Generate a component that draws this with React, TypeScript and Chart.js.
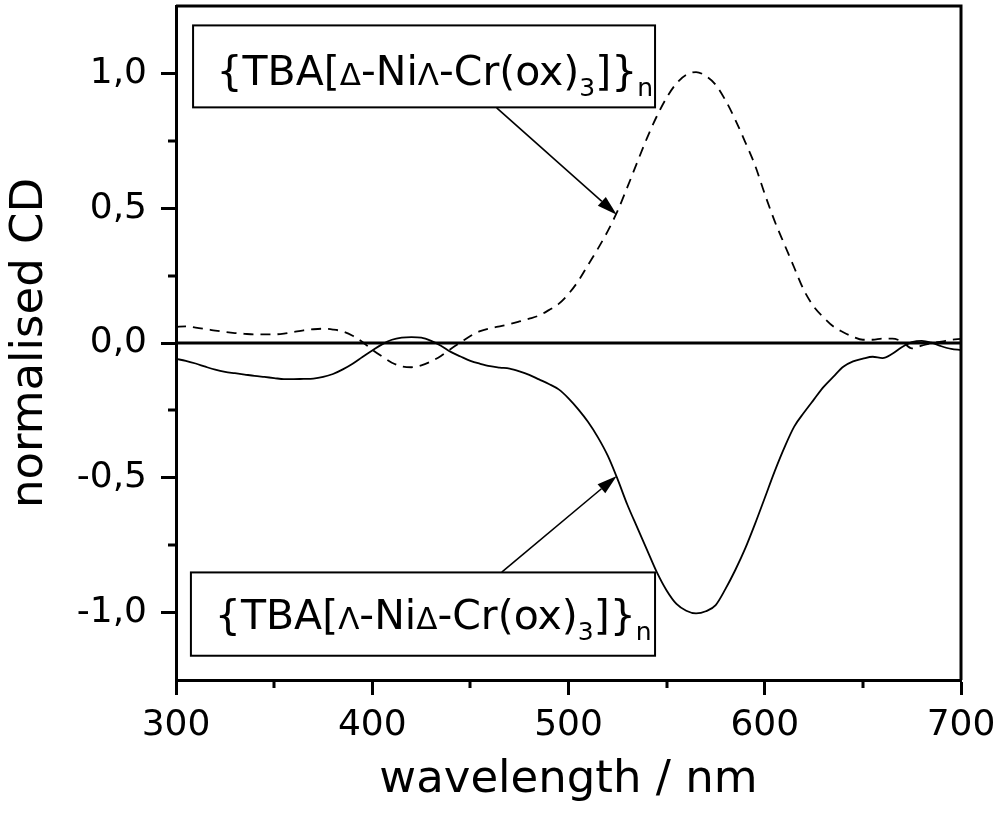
import { useEffect, useRef } from 'react';
import { Chart, registerables } from 'chart.js';

Chart.register(...registerables);

// ---------- data ----------
const wavelengths = [
  300, 305, 310, 315, 320, 325, 330, 335, 340, 345, 350, 355, 360, 365, 370, 375, 380, 385, 390, 395,
  400, 405, 410, 415, 420, 425, 430, 435, 440, 445, 450, 455, 460, 465, 470, 475, 480, 485, 490, 495,
  500, 505, 510, 515, 520, 525, 530, 535, 540, 545, 550, 555, 560, 565, 570, 575, 580, 585, 590, 595,
  600, 605, 610, 615, 620, 625, 630, 635, 640, 645, 650, 655, 660, 665, 670, 675, 680, 685, 690, 695, 700,
];

// {TBA[Δ-NiΛ-Cr(ox)3]}n  (dashed)
const cdDeltaNiLambdaCr = [
  0.06, 0.062, 0.057, 0.052, 0.046, 0.041, 0.037, 0.034, 0.032, 0.032, 0.032, 0.035, 0.041, 0.047, 0.051, 0.053, 0.05, 0.043, 0.027, 0.004,
  -0.025, -0.05, -0.073, -0.087, -0.09, -0.083, -0.068, -0.048, -0.022, 0.002, 0.026, 0.044, 0.054, 0.062, 0.07, 0.08, 0.09, 0.102, 0.122, 0.145,
  0.182, 0.23, 0.29, 0.35, 0.415, 0.49, 0.578, 0.67, 0.76, 0.841, 0.91, 0.963, 0.995, 1.005, 0.99, 0.958, 0.9, 0.828, 0.746, 0.66,
  0.553, 0.453, 0.366, 0.28, 0.195, 0.135, 0.095, 0.061, 0.04, 0.023, 0.012, 0.012, 0.016, 0.016, 0.005, -0.02, -0.01, 0.0, 0.005, 0.012, 0.015,
];

// {TBA[Λ-NiΔ-Cr(ox)3]}n  (solid)
const cdLambdaNiDeltaCr = [
  -0.059, -0.066, -0.076, -0.088, -0.099, -0.107, -0.112, -0.117, -0.122, -0.126, -0.13, -0.134, -0.134, -0.133, -0.132, -0.126, -0.115, -0.098, -0.077, -0.052,
  -0.028, -0.005, 0.012, 0.02, 0.022, 0.02, 0.008, -0.01, -0.033, -0.05, -0.066, -0.077, -0.086, -0.091, -0.095, -0.105, -0.118, -0.135, -0.152, -0.172,
  -0.205, -0.246, -0.293, -0.35, -0.418, -0.505, -0.6, -0.684, -0.767, -0.85, -0.918, -0.968, -0.993, -1.003, -0.995, -0.972, -0.912, -0.842, -0.763, -0.672,
  -0.575, -0.477, -0.388, -0.31, -0.258, -0.21, -0.163, -0.125, -0.088, -0.068, -0.058, -0.051, -0.056, -0.04, -0.015, 0.003, 0.008, 0.001, -0.012, -0.022, -0.026,
];

const zeroLineX = [300, 700];
const zeroLineY = [0, 0];

const xMajorTicks = [300, 400, 500, 600, 700];
const xMinorTicks = [350, 450, 550, 650];
const yMajorTicks = [-1, -0.5, 0, 0.5, 1];
const yMinorTicks = [-0.75, -0.25, 0.25, 0.75];

const xTitle = 'wavelength / nm';
const yTitle = 'normalised CD';

// formula label parts: [text, kind]
const labelUpper: [string, string][] = [
  ['{TBA[', 'main'], ['Δ', 'greek'], ['-Ni', 'main'], ['Λ', 'greek'], ['-Cr(ox)', 'main'], ['3', 'sub'], [']}', 'main'], ['n', 'sub'],
];
const labelLower: [string, string][] = [
  ['{TBA[', 'main'], ['Λ', 'greek'], ['-Ni', 'main'], ['Δ', 'greek'], ['-Cr(ox)', 'main'], ['3', 'sub'], [']}', 'main'], ['n', 'sub'],
];

// annotation geometry in data units (nm, CD)
const annotations = [
  { parts: labelUpper, box: [308.7, 1.178, 544.1, 0.874], textAt: [320.6, 0.958], arrowFrom: [463.4, 0.872], arrowTo: [524.6, 0.476] },
  { parts: labelLower, box: [307.6, -0.851, 544.1, -1.16], textAt: [319.8, -1.062], arrowFrom: [466.0, -0.85], arrowTo: [524.6, -0.493] },
];

const FONT = "'DejaVu Sans', 'Liberation Sans', Arial, sans-serif";

const fonts: Record<string, { font: string; dy: number }> = {
  main: { font: `41px ${FONT}`, dy: 0 },
  greek: { font: `31px ${FONT}`, dy: 0 },
  sub: { font: `25px ${FONT}`, dy: 11 },
};

const overlayPlugin = {
  id: 'overlay',
  afterDraw(chart: any) {
    const { ctx, chartArea: a, scales } = chart;
    const xs = scales.x;
    const ys = scales.y;
    ctx.save();
    ctx.strokeStyle = '#000';
    ctx.fillStyle = '#000';
    // top & right frame
    ctx.lineWidth = 3;
    ctx.beginPath();
    ctx.moveTo(a.left, a.top);
    ctx.lineTo(a.right, a.top);
    ctx.lineTo(a.right, a.bottom);
    ctx.stroke();
    // minor ticks
    ctx.lineWidth = 3;
    ctx.beginPath();
    for (const v of xMinorTicks) {
      const px = Math.round(xs.getPixelForValue(v));
      ctx.moveTo(px, a.bottom);
      ctx.lineTo(px, a.bottom + 8);
    }
    for (const v of yMinorTicks) {
      const py = Math.round(ys.getPixelForValue(v));
      ctx.moveTo(a.left, py);
      ctx.lineTo(a.left - 8, py);
    }
    ctx.stroke();

    // annotations
    for (const an of annotations) {
      const x1 = xs.getPixelForValue(an.box[0]);
      const y1 = ys.getPixelForValue(an.box[1]);
      const x2 = xs.getPixelForValue(an.box[2]);
      const y2 = ys.getPixelForValue(an.box[3]);
      ctx.fillStyle = '#fff';
      ctx.fillRect(x1, y1, x2 - x1, y2 - y1);
      ctx.strokeStyle = '#000';
      ctx.lineWidth = 2;
      ctx.strokeRect(x1, y1, x2 - x1, y2 - y1);
      // text
      ctx.fillStyle = '#000';
      ctx.textBaseline = 'alphabetic';
      ctx.textAlign = 'left';
      let cx = xs.getPixelForValue(an.textAt[0]);
      const by = ys.getPixelForValue(an.textAt[1]);
      for (const [t, k] of an.parts) {
        const f = fonts[k];
        ctx.font = f.font;
        ctx.fillText(t, cx, by + f.dy);
        cx += ctx.measureText(t).width;
      }
      // arrow
      const fx = xs.getPixelForValue(an.arrowFrom[0]);
      const fy = ys.getPixelForValue(an.arrowFrom[1]);
      const tx = xs.getPixelForValue(an.arrowTo[0]);
      const ty = ys.getPixelForValue(an.arrowTo[1]);
      const ang = Math.atan2(ty - fy, tx - fx);
      const hl = 20;
      const hw = 6;
      const bx = tx - hl * Math.cos(ang);
      const byy = ty - hl * Math.sin(ang);
      ctx.lineWidth = 1.6;
      ctx.beginPath();
      ctx.moveTo(fx, fy);
      ctx.lineTo(bx, byy);
      ctx.stroke();
      ctx.beginPath();
      ctx.moveTo(tx, ty);
      ctx.lineTo(bx + hw * Math.sin(ang), byy - hw * Math.cos(ang));
      ctx.lineTo(bx - hw * Math.sin(ang), byy + hw * Math.cos(ang));
      ctx.closePath();
      ctx.fill();
    }
    ctx.restore();
  },
};

export default function App() {
  const ref = useRef<HTMLCanvasElement>(null);
  useEffect(() => {
    if (!ref.current) return;
    const chart = new Chart(ref.current, {
      type: 'line',
      data: {
        datasets: [
          {
            label: '{TBA[Δ-NiΛ-Cr(ox)3]}n',
            data: wavelengths.map((x, i) => ({ x, y: cdDeltaNiLambdaCr[i] })),
            borderColor: '#000',
            borderWidth: 1.8,
            borderDash: [10, 7],
            pointRadius: 0,
            cubicInterpolationMode: 'monotone',
            fill: false,
          },
          {
            label: '{TBA[Λ-NiΔ-Cr(ox)3]}n',
            data: wavelengths.map((x, i) => ({ x, y: cdLambdaNiDeltaCr[i] })),
            borderColor: '#000',
            borderWidth: 1.8,
            pointRadius: 0,
            cubicInterpolationMode: 'monotone',
            fill: false,
          },
          {
            label: 'zero',
            data: zeroLineX.map((x, i) => ({ x, y: zeroLineY[i] })),
            borderColor: '#000',
            borderWidth: 3,
            pointRadius: 0,
            fill: false,
          },
        ],
      },
      options: {
        animation: false,
        responsive: false,
        devicePixelRatio: 1,
        layout: { padding: { left: 0, top: 6, right: 39, bottom: 0 } },
        plugins: { legend: { display: false }, tooltip: { enabled: false } },
        scales: {
          x: {
            type: 'linear',
            min: 300,
            max: 700,
            afterBuildTicks: (s: any) => {
              s.ticks = xMajorTicks.map((value) => ({ value }));
            },
            afterFit: (s: any) => {
              s.height = 153;
              s.paddingLeft = 0;
              s.paddingRight = 0;
            },
            ticks: {
              autoSkip: false,
              maxRotation: 0,
              padding: 9,
              color: '#000',
              font: { family: FONT, size: 36 },
              callback: (v: any) => String(v),
            },
            grid: { drawOnChartArea: false, drawTicks: true, tickLength: 15, tickWidth: 3, tickColor: '#000' },
            border: { display: true, color: '#000', width: 3 },
            title: {
              display: true,
              text: xTitle,
              color: '#000',
              font: { family: FONT, size: 45 },
              padding: { top: 4, bottom: 26 },
            },
          },
          y: {
            type: 'linear',
            min: -1.25,
            max: 1.25,
            afterBuildTicks: (s: any) => {
              s.ticks = yMajorTicks.map((value) => ({ value }));
            },
            afterFit: (s: any) => {
              s.width = 176;
              s.paddingTop = 0;
              s.paddingBottom = 0;
            },
            ticks: {
              autoSkip: false,
              padding: 14,
              color: '#000',
              font: { family: FONT, size: 36 },
              callback: (v: any) => Number(v).toFixed(1).replace('.', ','),
            },
            grid: { drawOnChartArea: false, drawTicks: true, tickLength: 15, tickWidth: 3, tickColor: '#000' },
            border: { display: true, color: '#000', width: 3 },
            title: {
              display: true,
              text: yTitle,
              color: '#000',
              font: { family: FONT, size: 45 },
              padding: { top: 3, bottom: 0 },
            },
          },
        },
      },
      plugins: [overlayPlugin],
    } as any);
    return () => chart.destroy();
  }, []);
  return (
    <div style={{ position: 'absolute', left: 0, top: 0, width: 1000, height: 833, background: '#fff' }}>
      <canvas ref={ref} width={1000} height={833} style={{ width: 1000, height: 833, display: 'block' }} />
    </div>
  );
}
